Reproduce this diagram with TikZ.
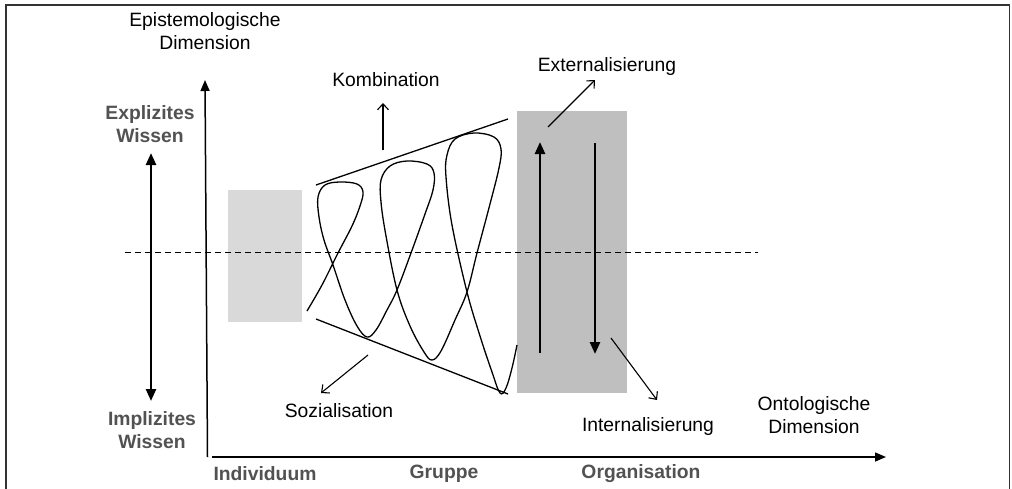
\documentclass[tikz,border=0pt]{standalone}
\usepackage{fontspec}
\setmainfont{Liberation Sans}
\usetikzlibrary{arrows.meta}
\begin{document}
\begin{tikzpicture}[x=1pt,y=-1pt,
  lbl/.style={font=\fontsize{19.3}{22.5}\selectfont, align=center, inner sep=0pt},
  lblbold/.style={lbl, font=\fontsize{19.3}{22.5}\selectfont\bfseries, text=black!68},
  axis/.style={line width=1.5pt, -{Triangle[length=11pt,width=9pt]}},
  bigarrow/.style={line width=2.5pt, -{Triangle[length=12pt,width=10pt]}},
  twoway/.style={line width=2.5pt, {Triangle[length=12pt,width=10pt]}-{Triangle[length=12pt,width=10pt]}},
  thinarrow/.style={line width=1.1pt, -{Straight Barb[length=6pt,width=11pt]}},
  thin/.style={line width=1.3pt},
  levelline/.style={line width=1.7pt, dash pattern=on 6pt off 4pt}
]
\useasboundingbox (0,0) rectangle (1012,488);
\fill[white] (0,0) rectangle (1012,488);

% outer frame
\draw[line width=1.5pt, black!80] (6,495) -- (6,5) -- (1009.5,5) -- (1009.5,495);

% shaded areas: individual and organisation
\fill[black!15] (228,190) rectangle (302,322);
\fill[black!25] (517,111) rectangle (627,393);

% axes
\coordinate (yfoot) at (207.5,457);
\coordinate (ytip) at (205,80);
\coordinate (xfoot) at (212,457);
\coordinate (xtip) at (886,457);
\draw[axis] (yfoot) -- (ytip);
\draw[axis] (xfoot) -- (xtip);

% explicit / implicit range
\coordinate (ktop) at (151,153);
\coordinate (kbot) at (151,401);
\draw[twoway] (kbot) -- (ktop);

% boundary between explicit and implicit knowledge
\coordinate (lvlL) at (125,252.5);
\coordinate (lvlR) at (758,252.5);
\draw[levelline] (lvlL) -- (lvlR);

% funnel
\coordinate (fu1) at (316,185);
\coordinate (fu2) at (508,119);
\coordinate (fl1) at (316,319);
\coordinate (fl2) at (508,394);
\draw[thin] (fu1) -- (fu2);
\draw[thin] (fl1) -- (fl2);

% knowledge spiral
\draw[thin, line join=round] plot[smooth, tension=0.6] coordinates {
 (307,311) (322,285) (338,253) (352,226) (360,206) (363,192) (357,184)
 (340,182) (325,185) (318,197) (319,217) (324,240) (333,265) (345,300)
 (357,326) (367,337) (376,330) (387,310) (397,290) (411,253) (425,214)
 (433,190) (434,173) (427,164) (407,161) (390,166) (381,180) (381,202)
 (386,236) (397,290) (410,326) (424,352) (432,360) (441,351) (455,320)
 (467,292) (477,253) (490,204) (499,168) (501,149) (494,137) (474,133)
 (455,139) (447,155) (446,177) (452,225) (467,292) (480,336) (492,372)
 (500,393) (506,388) (512,368) (517,345)};

% conversion arrows inside the organisation
\coordinate (upA) at (540,353);
\coordinate (upB) at (540,142);
\coordinate (dnA) at (595,143);
\coordinate (dnB) at (595,354);
\draw[bigarrow] (upA) -- (upB);
\draw[bigarrow] (dnA) -- (dnB);

% labels
\node[lbl] (epi) at (205,31) {Epistemologische\\Dimension};
\node[lbl] (kombi) at (386,80) {Kombination};
\node[lbl] (ext) at (607,67) {Externalisierung};
\node[lbl] (sozi) at (339,411) {Sozialisation};
\node[lbl] (int) at (648,427) {Internalisierung};
\node[lbl] (onto) at (814,415) {Ontologische\\Dimension};
\node[lblbold] (expl) at (150,124) {Explizites\\Wissen};
\node[lblbold] (impl) at (152,430) {Implizites\\Wissen};
\node[lblbold] (indiv) at (265,474) {Individuum};
\node[lblbold] (grp) at (444,474) {Gruppe};
\node[lblbold] (org) at (641,474) {Organisation};

% thin pointer arrows towards the mode labels
\coordinate (kA) at (383,150);
\coordinate (kB) at (383,103);
\coordinate (eA) at (548,127);
\coordinate (eB) at (595,80);
\coordinate (iA) at (611,338);
\coordinate (iB) at (657,400);
\coordinate (sA) at (368,355);
\coordinate (sB) at (321,393);
\draw[thinarrow] (kA) -- (kB);
\draw[thinarrow] (eA) -- (eB);
\draw[thinarrow] (iA) -- (iB);
\draw[thinarrow] (sA) -- (sB);
\end{tikzpicture}
\end{document}
